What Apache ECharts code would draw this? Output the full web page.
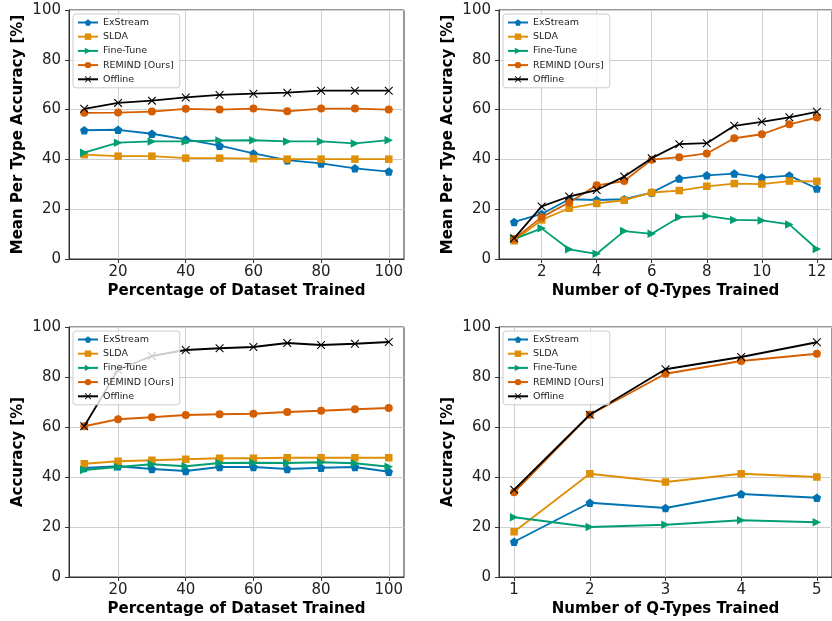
<!DOCTYPE html>
<html>
<head>
<meta charset="utf-8">
<script src="https://cdn.jsdelivr.net/npm/echarts@6/dist/echarts.min.js"></script>
<style>html,body{margin:0;padding:0;background:#fff;}#c{width:832px;height:621px;}</style>
</head>
<body>
<div id="c"></div>
<script>
// ---------- data ----------
const seriesNames = ['ExStream', 'SLDA', 'Fine-Tune', 'REMIND [Ours]', 'Offline'];

const pctX = [10, 20, 30, 40, 50, 60, 70, 80, 90, 100];
const q12X = [1, 2, 3, 4, 5, 6, 7, 8, 9, 10, 11, 12];
const q5X = [1, 2, 3, 4, 5];

const pctTicks = [20, 40, 60, 80, 100];
const q12Ticks = [2, 4, 6, 8, 10, 12];
const q5Ticks = [1, 2, 3, 4, 5];

// Panel 1: Mean per type accuracy vs percentage of dataset
const p1ExStream = [51.7, 51.9, 50.3, 48.0, 45.5, 42.4, 39.7, 38.4, 36.4, 35.1];
const p1SLDA     = [41.9, 41.3, 41.3, 40.5, 40.5, 40.3, 40.1, 40.1, 40.1, 40.1];
const p1FineTune = [42.7, 46.7, 47.2, 47.2, 47.6, 47.7, 47.2, 47.2, 46.4, 47.7];
const p1REMIND   = [58.7, 58.8, 59.2, 60.3, 60.0, 60.4, 59.3, 60.4, 60.4, 60.0];
const p1Offline  = [60.3, 62.7, 63.6, 64.9, 65.9, 66.4, 66.8, 67.6, 67.6, 67.6];

// Panel 2: Mean per type accuracy vs number of Q-types (12)
const p2ExStream = [14.9, 18.1, 24.0, 23.7, 24.0, 26.7, 32.3, 33.6, 34.3, 32.7, 33.5, 28.3];
const p2SLDA     = [7.3, 15.7, 20.4, 22.3, 23.6, 26.7, 27.5, 29.2, 30.3, 30.1, 31.3, 31.2];
const p2FineTune = [8.0, 12.3, 3.9, 2.1, 11.2, 10.1, 16.8, 17.3, 15.7, 15.5, 13.9, 4.0];
const p2REMIND   = [8.0, 16.8, 22.7, 29.6, 31.3, 39.9, 40.9, 42.4, 48.5, 50.1, 54.1, 56.8];
const p2Offline  = [8.3, 21.1, 25.1, 27.7, 33.1, 40.5, 46.1, 46.5, 53.5, 55.1, 56.9, 59.1];

// Panel 3: Accuracy vs percentage of dataset
const p3ExStream = [43.6, 44.3, 43.2, 42.4, 44.0, 44.0, 43.2, 43.7, 44.0, 42.1];
const p3SLDA     = [45.3, 46.3, 46.7, 47.1, 47.5, 47.5, 47.7, 47.7, 47.7, 47.7];
const p3FineTune = [42.8, 44.0, 45.1, 44.3, 45.6, 45.7, 45.6, 45.9, 45.5, 44.1];
const p3REMIND   = [60.3, 63.1, 63.9, 64.8, 65.1, 65.3, 66.0, 66.5, 67.1, 67.6];
const p3Offline  = [60.3, 82.9, 88.4, 90.8, 91.5, 92.0, 93.6, 92.8, 93.3, 94.0];

// Panel 4: Accuracy vs number of Q-types (5)
const p4ExStream = [14.1, 29.7, 27.6, 33.2, 31.7];
const p4SLDA     = [18.1, 41.3, 38.0, 41.3, 40.0];
const p4FineTune = [23.9, 20.0, 20.9, 22.7, 21.9];
const p4REMIND   = [33.9, 64.9, 81.3, 86.4, 89.3];
const p4Offline  = [34.9, 64.9, 83.1, 88.0, 93.9];

const yLabelTop = 'Mean Per Type Accuracy [%]';
const yLabelBottom = 'Accuracy [%]';
const xLabelPct = 'Percentage of Dataset Trained';
const xLabelQ = 'Number of Q-Types Trained';

// ---------- styling ----------
const FONT = 'DejaVu Sans';
const colors = ['#0173b2', '#de8f05', '#029e73', '#d55e00', '#000000'];
const pentagon = 'path://M0,-1 L0.951,-0.309 L0.588,0.809 L-0.588,0.809 L-0.951,-0.309 Z';
const xMark = 'path://M-1,-0.82 L-0.82,-1 L0,-0.18 L0.82,-1 L1,-0.82 L0.18,0 L1,0.82 L0.82,1 L0,0.18 L-0.82,1 L-1,0.82 L-0.18,0 Z';
const symbols = [pentagon, 'rect', 'triangle', 'circle', xMark];
const symbolSizes = [8.5, 7.5, 8.5, 8, 8.5];
const symbolRot = [0, 0, -90, 0, 0];

const grids = [
  {left: 69, top: 10, width: 335, height: 249},
  {left: 499, top: 10, width: 335, height: 249},
  {left: 69, top: 327, width: 335, height: 250},
  {left: 499, top: 327, width: 335, height: 250}
];

const panels = [
  {x: pctX, ticks: pctTicks, min: 5.5, max: 104.5, xname: xLabelPct, yname: yLabelTop,
   data: [p1ExStream, p1SLDA, p1FineTune, p1REMIND, p1Offline]},
  {x: q12X, ticks: q12Ticks, min: 0.45, max: 12.55, xname: xLabelQ, yname: yLabelTop,
   data: [p2ExStream, p2SLDA, p2FineTune, p2REMIND, p2Offline]},
  {x: pctX, ticks: pctTicks, min: 5.5, max: 104.5, xname: xLabelPct, yname: yLabelBottom,
   data: [p3ExStream, p3SLDA, p3FineTune, p3REMIND, p3Offline]},
  {x: q5X, ticks: q5Ticks, min: 0.8, max: 5.2, xname: xLabelQ, yname: yLabelBottom,
   data: [p4ExStream, p4SLDA, p4FineTune, p4REMIND, p4Offline]}
];

const axisColor = '#333333';
const gridColor = '#cfcfcf';

const option = {
  animation: false,
  backgroundColor: '#ffffff',
  textStyle: {fontFamily: FONT},
  grid: grids.map(g => Object.assign({show: true, borderColor: axisColor, borderWidth: 1, backgroundColor: 'transparent', containLabel: false}, g)),
  xAxis: panels.map((p, i) => ({
    type: 'value', gridIndex: i, min: p.min, max: p.max,
    name: p.xname, nameLocation: 'middle', nameGap: 25,
    nameTextStyle: {fontFamily: FONT, fontWeight: 'bold', fontSize: 15, color: '#000'},
    axisLine: {show: true, onZero: false, lineStyle: {color: axisColor, width: 1}},
    axisTick: {show: true, inside: false, length: 4, customValues: p.ticks, lineStyle: {color: axisColor}},
    axisLabel: {fontFamily: FONT, fontSize: 15, color: '#222', margin: 6, customValues: p.ticks},
    splitLine: {show: true, lineStyle: {color: gridColor, width: 1}}
  })),
  yAxis: panels.map((p, i) => ({
    type: 'value', gridIndex: i, min: 0, max: 100, interval: 20,
    name: p.yname, nameLocation: 'middle', nameGap: 43, nameRotate: 90,
    nameTextStyle: {fontFamily: FONT, fontWeight: 'bold', fontSize: 15, color: '#000'},
    axisLine: {show: true, lineStyle: {color: axisColor, width: 1}},
    axisTick: {show: true, inside: false, length: 4, lineStyle: {color: axisColor}},
    axisLabel: {fontFamily: FONT, fontSize: 15, color: '#222', margin: 8},
    splitLine: {show: true, lineStyle: {color: gridColor, width: 1}}
  })),
  legend: grids.map((g) => ({
    orient: 'vertical', left: g.left + 4, top: g.top + 4,
    data: seriesNames,
    padding: [3, 6, 3, 4], itemGap: 3.2, itemWidth: 20, itemHeight: 8,
    backgroundColor: 'rgba(255,255,255,0.8)', borderColor: '#cccccc', borderWidth: 1, borderRadius: 3,
    textStyle: {fontFamily: FONT, fontSize: 9.5, color: '#222', lineHeight: 11},
    selectedMode: false
  })),
  series: []
};

panels.forEach((p, pi) => {
  p.data.forEach((vals, si) => {
    option.series.push({
      type: 'line', name: seriesNames[si], xAxisIndex: pi, yAxisIndex: pi,
      data: p.x.map((xv, k) => [xv, vals[k]]),
      symbol: symbols[si], symbolSize: symbolSizes[si], symbolRotate: symbolRot[si],
      showAllSymbol: true,
      lineStyle: {color: colors[si], width: 1.8},
      itemStyle: {color: colors[si], borderWidth: 0},
      emphasis: {disabled: true},
      z: 2 + si * 0.01
    });
  });
});

const chart = echarts.init(document.getElementById('c'), null, {renderer: 'canvas'});
chart.setOption(option);
</script>
</body>
</html>
